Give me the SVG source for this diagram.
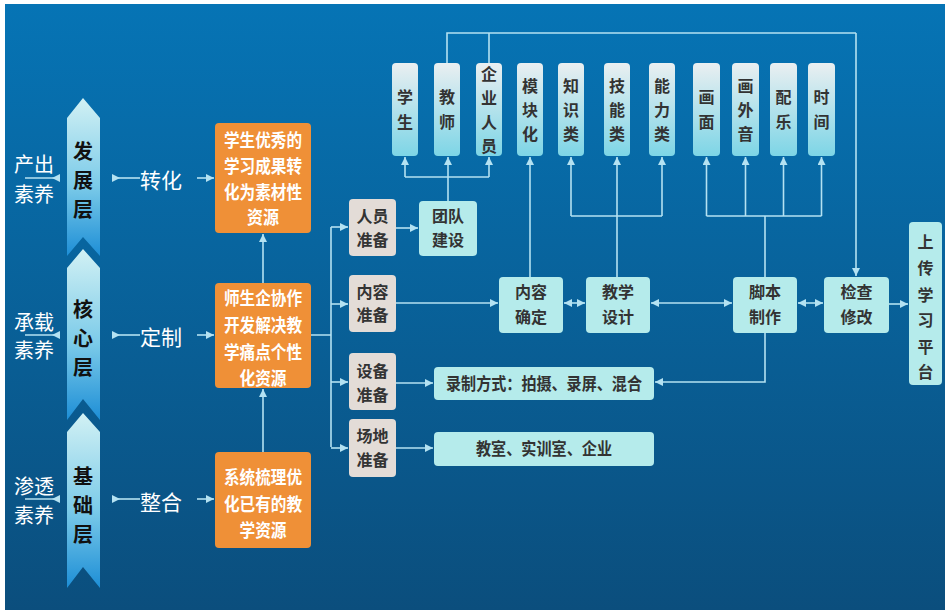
<svg xmlns="http://www.w3.org/2000/svg" width="945" height="610" viewBox="0 0 945 610">
<defs>
<linearGradient id="bg" x1="0" y1="0" x2="0" y2="1"><stop offset="0" stop-color="#0674b5"/><stop offset="1" stop-color="#0b4e7d"/></linearGradient>
<linearGradient id="lay" x1="0" y1="0" x2="0" y2="1"><stop offset="0" stop-color="#d2f1f4"/><stop offset="0.55" stop-color="#7ccbe9"/><stop offset="1" stop-color="#1d8ed6"/></linearGradient>
<linearGradient id="tb" x1="0" y1="0" x2="0" y2="1"><stop offset="0" stop-color="#eaeff1"/><stop offset="1" stop-color="#7dd5e6"/></linearGradient>
<marker id="ah" markerUnits="userSpaceOnUse" markerWidth="9" markerHeight="8" refX="8" refY="4" orient="auto-start-reverse"><path d="M0,0 L8,4 L0,8 z" fill="#b4e2f2"/></marker>
<marker id="ab" markerUnits="userSpaceOnUse" markerWidth="9" markerHeight="8" refX="0" refY="4" orient="auto"><path d="M0,0 L8,4 L0,8 z" fill="#b4e2f2"/></marker>
</defs>
<style>
.ln{fill:none;stroke:#b4e2f2;stroke-width:1.6}
.ae{marker-end:url(#ah)}
.as{marker-start:url(#ah)}
.ab{marker-start:url(#ab)}
.lay{fill:url(#lay)}
.lt{font-family:"Noto Sans CJK SC",sans-serif;font-weight:bold;font-size:20px;fill:#111;text-anchor:middle}
.side{font-family:"Liberation Serif","Noto Sans CJK SC",serif;font-size:20px;fill:#fff}
.mid{font-family:"Liberation Serif","Noto Sans CJK SC",serif;font-size:21px;fill:#fff}
.org{fill:#ef9037}
.ot{font-family:"Noto Sans CJK SC",sans-serif;font-weight:bold;font-size:18px;fill:#fff;text-anchor:middle}
.gry{fill:#e3dcd7}
.cy{fill:#b5ebeb}
.tb{fill:url(#tb)}
.bt{font-family:"Noto Sans CJK SC",sans-serif;font-weight:bold;font-size:16px;fill:#333;text-anchor:middle}
.wt{font-family:"Noto Sans CJK SC",sans-serif;font-weight:bold;font-size:17px;fill:#333;text-anchor:middle}
</style>
<rect x="0" y="0" width="945" height="610" fill="#fff"/>
<rect x="5" y="4" width="940" height="606" fill="url(#bg)"/>

<g id="connectors">
<path class="ln ab" d="M60,178 H25"/>
<path class="ln ab" d="M60,335 H25"/>
<path class="ln ab" d="M60,499 H25"/>
<path class="ln ab" d="M112,178 H140"/>
<path class="ln ab" d="M112,335 H140"/>
<path class="ln ab" d="M112,499 H140"/>
<path class="ln ae" d="M197,178 H214"/>
<path class="ln ae" d="M197,335 H214"/>
<path class="ln ae" d="M197,499 H214"/>
<path class="ln ae" d="M263,452 V389"/>
<path class="ln ae" d="M263,283 V234"/>
<path class="ln" d="M311,335 H331 M331,227 V447"/>
<path class="ln ae" d="M331,227 H348"/>
<path class="ln ae" d="M331,304 H348"/>
<path class="ln ae" d="M331,382 H348"/>
<path class="ln ae" d="M331,448 H348"/>
<path class="ln ae" d="M396,228 H418"/>
<path class="ln ae" d="M396,303 H498"/>
<path class="ln ae" d="M396,383 H433"/>
<path class="ln ae" d="M396,448 H433"/>
<path class="ln ae" d="M448,201 V157"/>
<path class="ln" d="M405,177 H489"/>
<path class="ln ae" d="M405,177 V157"/>
<path class="ln ae" d="M489,177 V157"/>
<path class="ln" d="M447,63 V33 H856 M489,63 V33"/>
<path class="ln ae" d="M856,33 V276"/>
<path class="ln ae" d="M530,277 V157"/>
<path class="ln" d="M617,277 V216 M571,216 H662"/>
<path class="ln ae" d="M571,216 V157"/>
<path class="ln ae" d="M617,216 V157"/>
<path class="ln ae" d="M662,216 V157"/>
<path class="ln" d="M765,277 V216 M706.5,216 H821.5"/>
<path class="ln ae" d="M706.5,216 V157"/>
<path class="ln ae" d="M745.5,216 V157"/>
<path class="ln ae" d="M783.5,216 V157"/>
<path class="ln ae" d="M821.5,216 V157"/>
<path class="ln ae as" d="M564,303 H585"/>
<path class="ln ae as" d="M651,303 H732"/>
<path class="ln ae as" d="M798,303 H823"/>
<path class="ln ae" d="M889,304 H908"/>
<path class="ln ae" d="M765,333 V382 H655"/>
</g>

<g id="layer-dev">
<polygon class="lay" points="83,98 100,118 100,256 83,237 67,256 67,118"/>
<text class="lt" x="83" y="159">发</text><text class="lt" x="83" y="188">展</text><text class="lt" x="83" y="217">层</text>
</g>
<g id="layer-core">
<polygon class="lay" points="83,249 100,268 100,420 83,399 67,420 67,268"/>
<text class="lt" x="83" y="317">核</text><text class="lt" x="83" y="346">心</text><text class="lt" x="83" y="375">层</text>
</g>
<g id="layer-base">
<polygon class="lay" points="83,413 100,432 100,588 83,567 67,588 67,432"/>
<text class="lt" x="83" y="484">基</text><text class="lt" x="83" y="513">础</text><text class="lt" x="83" y="542">层</text>
</g>

<g id="label-output"><text class="side" x="14" y="172">产出</text><text class="side" x="14" y="202">素养</text></g>
<g id="label-carry"><text class="side" x="14" y="330">承载</text><text class="side" x="14" y="358">素养</text></g>
<g id="label-pen"><text class="side" x="14" y="494">渗透</text><text class="side" x="14" y="523">素养</text></g>
<g id="label-zh"><text class="mid" x="140" y="188">转化</text></g>
<g id="label-dz"><text class="mid" x="140" y="345">定制</text></g>
<g id="label-zhg"><text class="mid" x="140" y="510">整合</text></g>

<g id="orange-1">
<rect class="org" x="215" y="123" width="96" height="110" rx="4"/>
<text class="ot" x="263" y="147" textLength="78" lengthAdjust="spacingAndGlyphs">学生优秀的</text><text class="ot" x="263" y="173" textLength="78" lengthAdjust="spacingAndGlyphs">学习成果转</text><text class="ot" x="263" y="199" textLength="78" lengthAdjust="spacingAndGlyphs">化为素材性</text><text class="ot" x="263" y="224" textLength="32" lengthAdjust="spacingAndGlyphs">资源</text>
</g>
<g id="orange-2">
<rect class="org" x="215" y="283" width="96" height="105" rx="4"/>
<text class="ot" x="263" y="305" textLength="78" lengthAdjust="spacingAndGlyphs">师生企协作</text><text class="ot" x="263" y="332" textLength="78" lengthAdjust="spacingAndGlyphs">开发解决教</text><text class="ot" x="263" y="359" textLength="78" lengthAdjust="spacingAndGlyphs">学痛点个性</text><text class="ot" x="263" y="385" textLength="47" lengthAdjust="spacingAndGlyphs">化资源</text>
</g>
<g id="orange-3">
<rect class="org" x="215" y="452" width="96" height="96" rx="4"/>
<text class="ot" x="263" y="484" textLength="78" lengthAdjust="spacingAndGlyphs">系统梳理优</text><text class="ot" x="263" y="511" textLength="78" lengthAdjust="spacingAndGlyphs">化已有的教</text><text class="ot" x="263" y="537" textLength="47" lengthAdjust="spacingAndGlyphs">学资源</text>
</g>

<g id="prep-people"><rect class="gry" x="349" y="199" width="47" height="57" rx="4"/><text class="bt" x="372.5" y="222">人员</text><text class="bt" x="372.5" y="246">准备</text></g>
<g id="prep-content"><rect class="gry" x="349" y="275" width="47" height="57" rx="4"/><text class="bt" x="372.5" y="298">内容</text><text class="bt" x="372.5" y="321">准备</text></g>
<g id="prep-device"><rect class="gry" x="349" y="353" width="47" height="57" rx="4"/><text class="bt" x="372.5" y="377">设备</text><text class="bt" x="372.5" y="401">准备</text></g>
<g id="prep-site"><rect class="gry" x="349" y="419" width="47" height="58" rx="4"/><text class="bt" x="372.5" y="442">场地</text><text class="bt" x="372.5" y="466">准备</text></g>

<g id="team"><rect class="cy" x="419" y="201" width="58" height="55" rx="4"/><text class="bt" x="448" y="222">团队</text><text class="bt" x="448" y="246">建设</text></g>
<g id="record"><rect class="cy" x="434" y="367" width="220" height="33" rx="4"/><text class="wt" x="544" y="390" textLength="196" lengthAdjust="spacingAndGlyphs">录制方式：拍摄、录屏、混合</text></g>
<g id="rooms"><rect class="cy" x="434" y="432" width="220" height="34" rx="4"/><text class="wt" x="544" y="455" textLength="136" lengthAdjust="spacingAndGlyphs">教室、实训室、企业</text></g>

<g id="content-fix"><rect class="cy" x="499" y="277" width="64" height="56" rx="4"/><text class="bt" x="531" y="298">内容</text><text class="bt" x="531" y="323">确定</text></g>
<g id="teach-design"><rect class="cy" x="586" y="277" width="64" height="56" rx="4"/><text class="bt" x="618" y="298">教学</text><text class="bt" x="618" y="323">设计</text></g>
<g id="script"><rect class="cy" x="733" y="277" width="64" height="56" rx="4"/><text class="bt" x="765" y="298">脚本</text><text class="bt" x="765" y="323">制作</text></g>
<g id="check"><rect class="cy" x="824" y="277" width="65" height="56" rx="4"/><text class="bt" x="856.5" y="298">检查</text><text class="bt" x="856.5" y="323">修改</text></g>
<g id="upload"><rect class="cy" x="909" y="222" width="33" height="163" rx="4"/>
<text class="bt" x="925.5" y="248">上</text><text class="bt" x="925.5" y="274">传</text><text class="bt" x="925.5" y="301">学</text><text class="bt" x="925.5" y="326">习</text><text class="bt" x="925.5" y="353">平</text><text class="bt" x="925.5" y="378">台</text></g>

<g id="t-student"><rect class="tb" x="392" y="63" width="26" height="93" rx="4"/><text class="bt" x="405" y="103">学</text><text class="bt" x="405" y="128">生</text></g>
<g id="t-teacher"><rect class="tb" x="434" y="63" width="26" height="93" rx="4"/><text class="bt" x="447" y="103">教</text><text class="bt" x="447" y="128">师</text></g>
<g id="t-company"><rect class="tb" x="476" y="63" width="26" height="93" rx="4"/><text class="bt" x="489" y="80">企</text><text class="bt" x="489" y="104">业</text><text class="bt" x="489" y="128">人</text><text class="bt" x="489" y="152">员</text></g>
<g id="t-module"><rect class="tb" x="517" y="63" width="26" height="93" rx="4"/><text class="bt" x="530" y="92">模</text><text class="bt" x="530" y="116">块</text><text class="bt" x="530" y="140">化</text></g>
<g id="t-know"><rect class="tb" x="558" y="63" width="26" height="93" rx="4"/><text class="bt" x="571" y="92">知</text><text class="bt" x="571" y="116">识</text><text class="bt" x="571" y="140">类</text></g>
<g id="t-skill"><rect class="tb" x="604" y="63" width="26" height="93" rx="4"/><text class="bt" x="617" y="92">技</text><text class="bt" x="617" y="116">能</text><text class="bt" x="617" y="140">类</text></g>
<g id="t-ability"><rect class="tb" x="649" y="63" width="26" height="93" rx="4"/><text class="bt" x="662" y="92">能</text><text class="bt" x="662" y="116">力</text><text class="bt" x="662" y="140">类</text></g>
<g id="t-picture"><rect class="tb" x="693" y="63" width="27" height="93" rx="4"/><text class="bt" x="706.5" y="103">画</text><text class="bt" x="706.5" y="128">面</text></g>
<g id="t-voice"><rect class="tb" x="732" y="63" width="27" height="93" rx="4"/><text class="bt" x="745.5" y="92">画</text><text class="bt" x="745.5" y="116">外</text><text class="bt" x="745.5" y="140">音</text></g>
<g id="t-music"><rect class="tb" x="770" y="63" width="27" height="93" rx="4"/><text class="bt" x="783.5" y="103">配</text><text class="bt" x="783.5" y="128">乐</text></g>
<g id="t-time"><rect class="tb" x="808" y="63" width="27" height="93" rx="4"/><text class="bt" x="821.5" y="103">时</text><text class="bt" x="821.5" y="128">间</text></g>
</svg>
